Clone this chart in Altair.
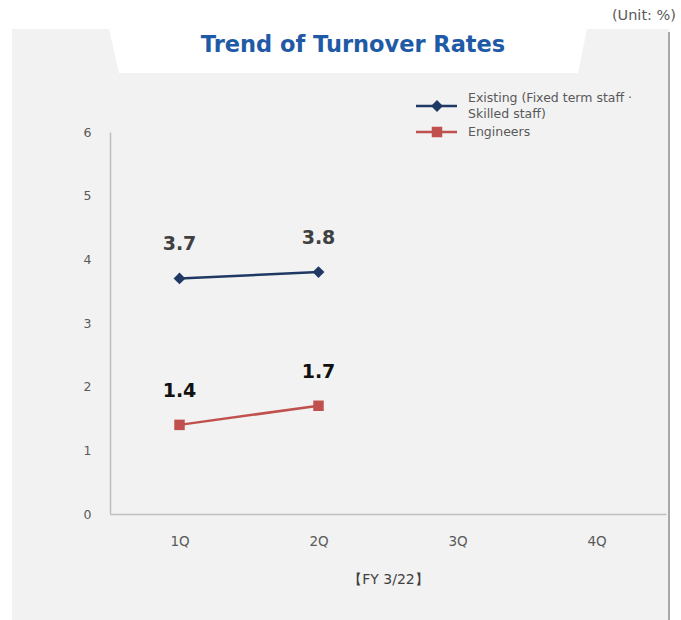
import altair as alt
import pandas as pd

# Quarterly turnover rates (%), FY 3/22
quarters = ["1Q", "2Q", "3Q", "4Q"]
series_names = ["Existing", "Engineers"]
legend_labels = ["Existing (Fixed term staff ·\nSkilled staff)", "Engineers"]
existing = [3.7, 3.8]
engineers = [1.4, 1.7]

line_colors = ["#1f3864", "#c0504d"]
marker_shapes = ["diamond", "square"]
marker_sizes = [140, 110]
FONT = "DejaVu Sans"

rows = []
for name, vals in zip(series_names, [existing, engineers]):
    for q, v in zip(quarters, vals):
        rows.append({"series": name, "quarter": q, "value": v})
df = pd.DataFrame(rows)

legend_df = pd.DataFrame({"series": series_names, "label": legend_labels})

one = alt.Data(values=[{}])

# Grey card behind the plot with the white title tab cut into its top edge.
# A custom symbol path drawn at size 4 uses one unit per pixel, relative to the plot origin.
PANEL_PATH = (
    "M-98,-103 L-1,-103 L9,-59 L468,-59 L477,-103 L559,-103 "
    "L559,488 L-98,488 Z"
)
panel = alt.Chart(one).mark_point(
    shape=PANEL_PATH, size=4, filled=True, fill="#f2f2f2", opacity=1, strokeWidth=0
).encode(x=alt.value(0), y=alt.value(0))

border = alt.Chart(one).mark_rule(color="#a8a8a8", strokeWidth=2).encode(
    x=alt.value(559), y=alt.value(-100), y2=alt.value(488)
)

title = alt.Chart(one).mark_text(
    text="Trend of Turnover Rates", font=FONT, fontSize=22.5, fontWeight="bold",
    color="#1f5aa6", align="center", baseline="middle",
).encode(x=alt.value(243), y=alt.value(-87))

unit = alt.Chart(one).mark_text(
    text="(Unit: %)", font=FONT, fontSize=14.5, color="#595959",
    align="right", baseline="middle",
).encode(x=alt.value(566), y=alt.value(-116))

leg_y = alt.Y("series:N", scale=alt.Scale(type="point", domain=series_names, range=[-26, 0], padding=0), axis=None)
leg_color = alt.Color("series:N", scale=alt.Scale(domain=series_names, range=line_colors), legend=None)
shape_enc = alt.Shape("series:N", scale=alt.Scale(domain=series_names, range=marker_shapes), legend=None)
size_enc = alt.Size("series:N", scale=alt.Scale(domain=series_names, range=marker_sizes), legend=None)

leg_rule = alt.Chart(legend_df).mark_rule(strokeWidth=2.5).encode(
    x=alt.value(306), x2=alt.value(347), y=leg_y, color=leg_color
)
leg_pt = alt.Chart(legend_df).mark_point(filled=True, opacity=1).encode(
    x=alt.value(327), y=leg_y, color=leg_color, shape=shape_enc, size=size_enc,
)
leg_text_style = dict(
    align="left", baseline="middle", font=FONT, fontSize=12.5, color="#595959",
    lineBreak="\n", lineHeight=16,
)
# the two-line entry is lifted by half a line so that it centres on its symbol
leg_text_multi = alt.Chart(legend_df).transform_filter(
    alt.datum.series == "Existing"
).mark_text(dy=-8, **leg_text_style).encode(x=alt.value(358), y=leg_y, text="label:N")
leg_text_single = alt.Chart(legend_df).transform_filter(
    alt.datum.series != "Existing"
).mark_text(**leg_text_style).encode(x=alt.value(358), y=leg_y, text="label:N")

x_enc = alt.X(
    "quarter:N", sort=quarters,
    scale=alt.Scale(type="point", domain=quarters, padding=0.5),
    axis=alt.Axis(
        title="【FY 3/22】", labelAngle=0, ticks=False, domainColor="#bfbfbf", domainWidth=1.5,
        labelFont=FONT, labelFontSize=13.5, labelColor="#595959", labelPadding=20,
        titleFont=FONT, titleFontSize=14, titleFontWeight="normal", titleColor="#404040",
        titlePadding=25, zindex=1,
    ),
)
y_enc = alt.Y(
    "value:Q", scale=alt.Scale(domain=[0, 6], nice=False),
    axis=alt.Axis(
        title=None, values=[0, 1, 2, 3, 4, 5, 6], grid=False, ticks=False,
        domainColor="#bfbfbf", domainWidth=1.5,
        labelFont=FONT, labelFontSize=12.5, labelColor="#595959", labelPadding=19, zindex=1,
    ),
)
x_plain = alt.X("quarter:N", sort=quarters, scale=alt.Scale(type="point", domain=quarters, padding=0.5), axis=None)
y_plain = alt.Y("value:Q", scale=alt.Scale(domain=[0, 6], nice=False), axis=None)
color_enc = alt.Color("series:N", scale=alt.Scale(domain=series_names, range=line_colors), legend=None)

lines = alt.Chart(df).mark_line(strokeWidth=2.5).encode(x=x_enc, y=y_enc, color=color_enc, detail="series:N")
points = alt.Chart(df).mark_point(filled=True, opacity=1).encode(
    x=x_plain, y=y_plain, color=color_enc, shape=shape_enc, size=size_enc,
)
labels = alt.Chart(df).mark_text(
    dy=-34, font=FONT, fontSize=19, fontWeight="bold", align="center", baseline="middle"
).encode(
    x=x_plain, y=y_plain,
    text=alt.Text("value:Q", format=".1f"),
    color=alt.condition(alt.datum.series == "Engineers", alt.value("#111111"), alt.value("#404040")),
)

chart = alt.layer(
    panel, border, title, unit, leg_rule, leg_pt, leg_text_multi, leg_text_single,
    lines, points, labels
).resolve_scale(
    x="independent", y="independent", color="independent", shape="independent", size="independent"
).properties(
    width=556, height=382,
    autosize=alt.AutoSizeParams(type="none"),
    padding={"left": 110, "top": 132, "right": 15, "bottom": 106},
    background="white",
).configure_view(stroke=None)

chart.save("out.html", embed_options={"renderer": "svg", "actions": False})
